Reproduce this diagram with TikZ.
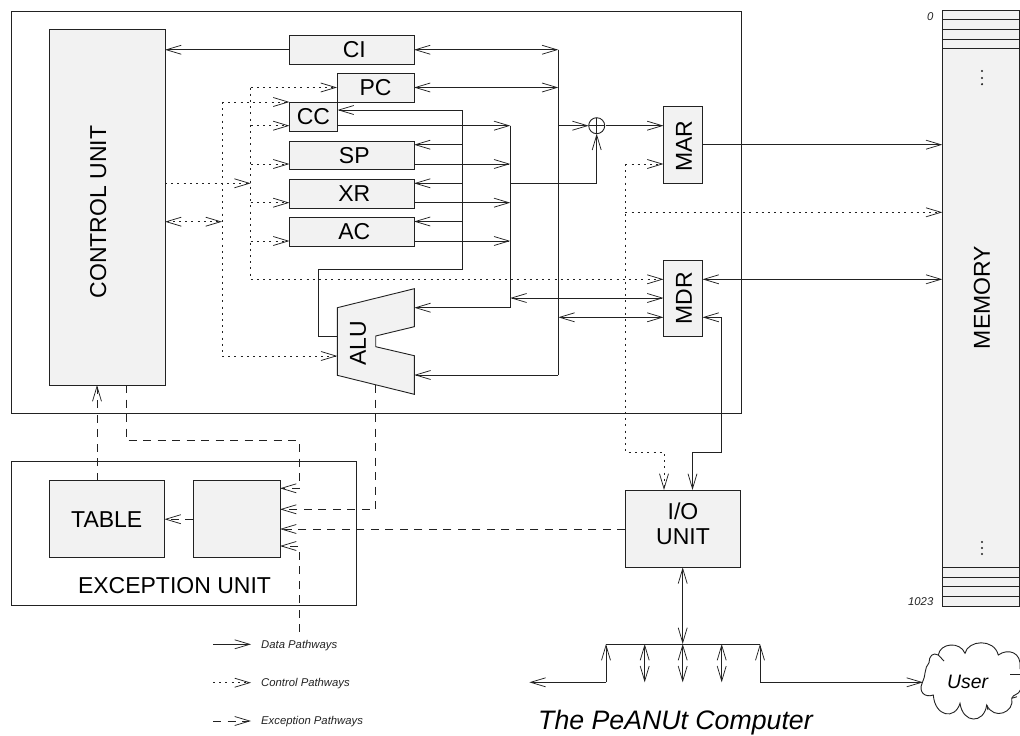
\documentclass[tikz,border=0pt]{standalone}
\usepackage{fontspec}
\setmainfont{Liberation Sans}
\usetikzlibrary{arrows.meta}
\definecolor{boxfill}{HTML}{F2F2F2}
\definecolor{ink}{HTML}{222222}
\tikzset{
  wire/.style={draw=ink,line width=0.9pt,line join=miter},
  barb/.tip={Straight Barb[length=15pt,width=9pt,line width=0.75pt]},
  data/.style={wire},
  ctl/.style={wire,dash pattern=on 2pt off 4.2pt},
  exc/.style={wire,dash pattern=on 8pt off 6.5pt},
  to tip/.style={-{barb}},
  both/.style={{barb}-{barb}},
  box/.style={rectangle,draw=ink,fill=boxfill,line width=0.9pt,inner sep=0pt,outer sep=0pt,font=\fontsize{23}{25.5}\selectfont},
  frame/.style={rectangle,draw=ink,fill=none,line width=0.9pt,inner sep=0pt,outer sep=0pt},
  lab/.style={inner sep=0pt,font=\fontsize{23}{25}\selectfont},
  tiny/.style={inner sep=0pt,font=\fontsize{11.3}{12}\itshape\selectfont,text=ink,anchor=west},
}
\begin{document}
\begin{tikzpicture}[x=1pt,y=-1pt]
\useasboundingbox (0,0) rectangle (1020,736);
% row and column guides
\foreach \n/\y in {rSPi/144.7,rSPo/164,rXRi/183.3,rXRo/202.7,rACi/221.5,rACo/241,rCCi/110,rCCo/125.7,rLoop/269.5,rCtl/279.3,rA/307.7,rB/375,rMDa/298,rMDb/317.3,rMem/212.3,rIO/452,rCUc/183.3,rCUd/221.7,rExA/488.3,rExB/509.3,rExC/529,rExD/546,rExTop/440.3,rBus/644,rDrop/682.3,rLeg1/644.3,rLeg2/682.7,rLeg3/721,rAluC/356,rAluO/336.7,rExEnd/632,rAluB/385}
  \coordinate (\n) at (0,\y);
\foreach \n/\x in {busA/558.3,busB/510.3,busC/462.3,ctlA/250.7,ctlB/222,ctlM/625.3,loopX/318,aluR/414.3,aluL/337.3,excV/299,excW/375.7,cuOut/126,cuIn/97,ioD/664,ioS/692.5,mdrV/721.7,dA/606,dB/644.7,dC/682.7,dD/721.7,dE/760,busEndL/529.3,cloudIn/923,legA/213,legB/251}
  \coordinate (\n) at (\x,0);
% frames
\node[frame,minimum width=730pt,minimum height=402.5pt] (cpu) at (376,212.25) {};
\node[frame,minimum width=345.5pt,minimum height=144pt] (excu) at (183.75,533.7) {};
\node[lab] (excl) at (174.5,585.7) {EXCEPTION UNIT};
% boxes
\node[box,minimum width=116pt,minimum height=355.5pt] (cu) at (107,207.25) {};
\node[lab,rotate=90] (cul) at (98.3,212) {CONTROL UNIT};
\node[box,minimum width=124.5pt,minimum height=28.5pt] (ci) at (351.75,49.75) {\hspace*{5pt}CI};
\node[box,minimum width=77pt,minimum height=29pt] (pc) at (375.5,87.5) {PC};
\node[box,minimum width=48pt,minimum height=29pt] (cc) at (313.5,116.5) {CC};
\node[box,minimum width=124.5pt,minimum height=28.5pt] (sp) at (351.75,155.25) {\hspace*{5pt}SP};
\node[box,minimum width=124.5pt,minimum height=29pt] (xr) at (351.75,193.5) {\hspace*{5pt}XR};
\node[box,minimum width=124.5pt,minimum height=29pt] (ac) at (351.75,232) {\hspace*{5pt}AC};
\node[box,minimum width=39pt,minimum height=76.6pt] (mar) at (683,145) {};
\node[lab,rotate=90] (marl) at (684,146) {MAR};
\node[box,minimum width=39pt,minimum height=76.7pt] (mdr) at (683,298.35) {};
\node[lab,rotate=90] (mdrl) at (684,298.3) {MDR};
\node[box,minimum width=115.4pt,minimum height=77.3pt] (io) at (683,528.65) {};
\node[lab,align=center] (iol) at (683,523.5) {I/O\\UNIT};
\node[box,minimum width=115.5pt,minimum height=77pt] (table) at (106.75,519.2) {TABLE};
\node[box,minimum width=86.7pt,minimum height=77pt] (exb) at (236.65,519.2) {};
\node[box,minimum width=76.7pt,minimum height=596pt] (mem) at (980.65,308) {};
\node[lab,rotate=90] (meml) at (982,297.5) {MEMORY};
\foreach \y in {19.7,29.4,39.2,48.9,567.3,577,586.7,596.3}
  \draw[wire] (942.3,\y) -- (1019,\y);
\foreach \y in {71,78,84.2,542,548,554}
  \fill[ink] (982,\y) circle (1.2pt);
\node[inner sep=0pt,anchor=east,font=\fontsize{11.3}{12}\itshape\selectfont,text=ink] (m0) at (933.5,16.3) {0};
\node[inner sep=0pt,anchor=east,font=\fontsize{11.3}{12}\itshape\selectfont,text=ink] (m1) at (933.5,601.5) {1023};
% ALU
\draw[wire,fill=boxfill] (337.3,307.7) -- (414.3,288.7) -- (414.3,326.7) -- (375.7,336) -- (375.7,346.7) -- (414.3,355.7) -- (414.3,394.3) -- (337.3,375.3) -- cycle;
\node[lab,rotate=90] (alu) at (358,343) {ALU};
% adder
\node[circle,draw=ink,line width=0.9pt,minimum size=16pt,inner sep=0pt,outer sep=0pt] (add) at (596.7,125.7) {};
\draw[wire] (add.north) -- (add.south);
\draw[wire] (add.west) -- (add.east);
% data pathways
\draw[data,to tip] (ci.west) -- (cu.east |- ci.west);
\draw[data,both] (ci.east) -- (busA |- ci.east);
\draw[data,both] (pc.east) -- (busA |- pc.east);
\draw[data] (busA |- ci.east) -- (busA |- rB);
\draw[data,to tip] (busA |- rB) -- (aluR |- rB);
\draw[data,to tip] (busA |- add.west) -- (add.west);
\draw[data,to tip] ([xshift=1pt]add.east) -- (mar.west |- add.east);
\draw[data] (busB |- rCCo) -- (busB |- rA);
\draw[data,to tip] (cc.east |- rCCo) -- (busB |- rCCo);
\draw[data,to tip] (sp.east |- rSPo) -- (busB |- rSPo);
\draw[data,to tip] (xr.east |- rXRo) -- (busB |- rXRo);
\draw[data,to tip] (ac.east |- rACo) -- (busB |- rACo);
\draw[data,to tip] (busB |- rA) -- (aluR |- rA);
\draw[data,to tip] (busB |- rCUc) -| (add.south);
\draw[data,both] (busB |- rMDa) -- (mdr.west |- rMDa);
\draw[data,both] (busA |- rMDb) -- (mdr.west |- rMDb);
\draw[data,to tip] (aluL |- rAluO) -| (loopX |- rLoop) -- (busC |- rLoop) -- (busC |- rCCi) -- (cc.east |- rCCi);
\draw[data,to tip] (busC |- rSPi) -- (sp.east |- rSPi);
\draw[data,to tip] (busC |- rXRi) -- (xr.east |- rXRi);
\draw[data,to tip] (busC |- rACi) -- (ac.east |- rACi);
\draw[data,to tip] (mar.east |- rSPi) -- (mem.west |- rSPi);
\draw[data,both] (mdr.east |- rCtl) -- (mem.west |- rCtl);
\draw[data,to tip] (mdrV |- rIO) -- (mdrV |- rMDb) -- (mdr.east |- rMDb);
\draw[data,to tip] (mdrV |- rIO) -| (ioS |- io.north);
\draw[data,both] (io.south -| dC) -- (dC |- rBus);
\draw[data] (dA |- rBus) -- (dE |- rBus);
\draw[data,to tip] (dA |- rDrop) -- (dA |- rBus);
\draw[data,both] (dB |- rDrop) -- (dB |- rBus);
\draw[data,both] (dC |- rDrop) -- (dC |- rBus);
\draw[data,both] (dD |- rDrop) -- (dD |- rBus);
\draw[data,to tip] (dE |- rDrop) -- (dE |- rBus);
\draw[data,to tip] (dA |- rDrop) -- (busEndL |- rDrop);
\draw[data,to tip] (dE |- rDrop) -- (cloudIn |- rDrop);
% control pathways
\draw[ctl] (ctlA |- pc.west) -- (ctlA |- rCtl);
\draw[ctl,to tip] (ctlA |- pc.west) -- (pc.west);
\draw[ctl,to tip] (ctlA |- rCtl) -- (mdr.west |- rCtl);
\draw[ctl,to tip] (ctlB |- cc.north) -- (cc.north west);
\draw[ctl] (ctlB |- cc.north) -- (ctlB |- rAluC);
\draw[ctl,to tip] (ctlB |- rAluC) -- (aluL |- rAluC);
\draw[ctl,to tip] (ctlA |- rCCo) -- (cc.west |- rCCo);
\draw[ctl,to tip] (ctlA |- rSPo) -- (sp.west |- rSPo);
\draw[ctl,to tip] (ctlA |- rXRo) -- (xr.west |- rXRo);
\draw[ctl,to tip] (ctlA |- rACo) -- (ac.west |- rACo);
\draw[ctl,to tip] (cu.east |- rCUc) -- (ctlA |- rCUc);
\draw[ctl,both] (cu.east |- rCUd) -- (ctlB |- rCUd);
\draw[ctl,to tip] (ctlM |- rSPo) -- (ctlM |- rIO) -| (ioD |- io.north);
\draw[ctl,to tip] (ctlM |- rSPo) -- (mar.west |- rSPo);
\draw[ctl,to tip] (ctlM |- rMem) -- (mem.west |- rMem);
% exception pathways
\draw[exc,to tip] (cuIn |- table.north) -- (cuIn |- cu.south);
\draw[exc,to tip] (cuOut |- cu.south) -- (cuOut |- rExTop) -- (excV |- rExTop) -- (excV |- rExA) -- (exb.east |- rExA);
\draw[exc,to tip] (excW |- rAluB) -- (excW |- rExB) -- (exb.east |- rExB);
\draw[exc,to tip] (io.west |- rExC) -- (exb.east |- rExC);
\draw[exc,to tip] (excV |- rExEnd) -- (excV |- rExD) -- (exb.east |- rExD);
\draw[exc,to tip] (exb.west) -- (table.east);
% cloud
\draw[wire,fill=white] (922.3,682.7)
  .. controls (926,676) and (924,668) .. (929,662.7)
  .. controls (929,656) and (933,652) .. (938.3,655)
  .. controls (940,643) and (960,641) .. (965,653.3)
  .. controls (968,640) and (994,638) .. (998.3,655)
  .. controls (1008,648) and (1022,652) .. (1020,668.3)
  .. controls (1024,675) and (1026,685) .. (1020.3,690)
  .. controls (1019,695) and (1013,694) .. (1011.7,698.3)
  .. controls (1015,712) and (994,721) .. (986.7,705)
  .. controls (984,724) and (963,724) .. (960,703.3)
  .. controls (955,720) and (935,717) .. (933.3,695)
  .. controls (925,698) and (918,692) .. (922.3,682.7) -- cycle;
\draw[wire] (938.3,655) -- (944,661);
\draw[wire] (1010,674) -- (1020,674);
\draw[wire] (1011.7,698.3) -- (1017,696.7);
\draw[wire] (986.7,705) -- (988,710);
\node[inner sep=0pt,font=\fontsize{19.4}{21}\itshape\selectfont] (user) at (967.7,681.7) {User};
% legend
\draw[data,to tip] (legA |- rLeg1) -- (legB |- rLeg1);
\draw[ctl,to tip] (legA |- rLeg2) -- (legB |- rLeg2);
\draw[exc,to tip] (legA |- rLeg3) -- (legB |- rLeg3);
\node[tiny] (l1) at (261,645.3) {Data Pathways};
\node[tiny] (l2) at (261,683.7) {Control Pathways};
\node[tiny] (l3) at (261,722) {Exception Pathways};
\node[inner sep=0pt,font=\fontsize{26.7}{28}\itshape\selectfont,anchor=base west] (title) at (538,729.5) {The PeANUt Computer};
\end{tikzpicture}
\end{document}
